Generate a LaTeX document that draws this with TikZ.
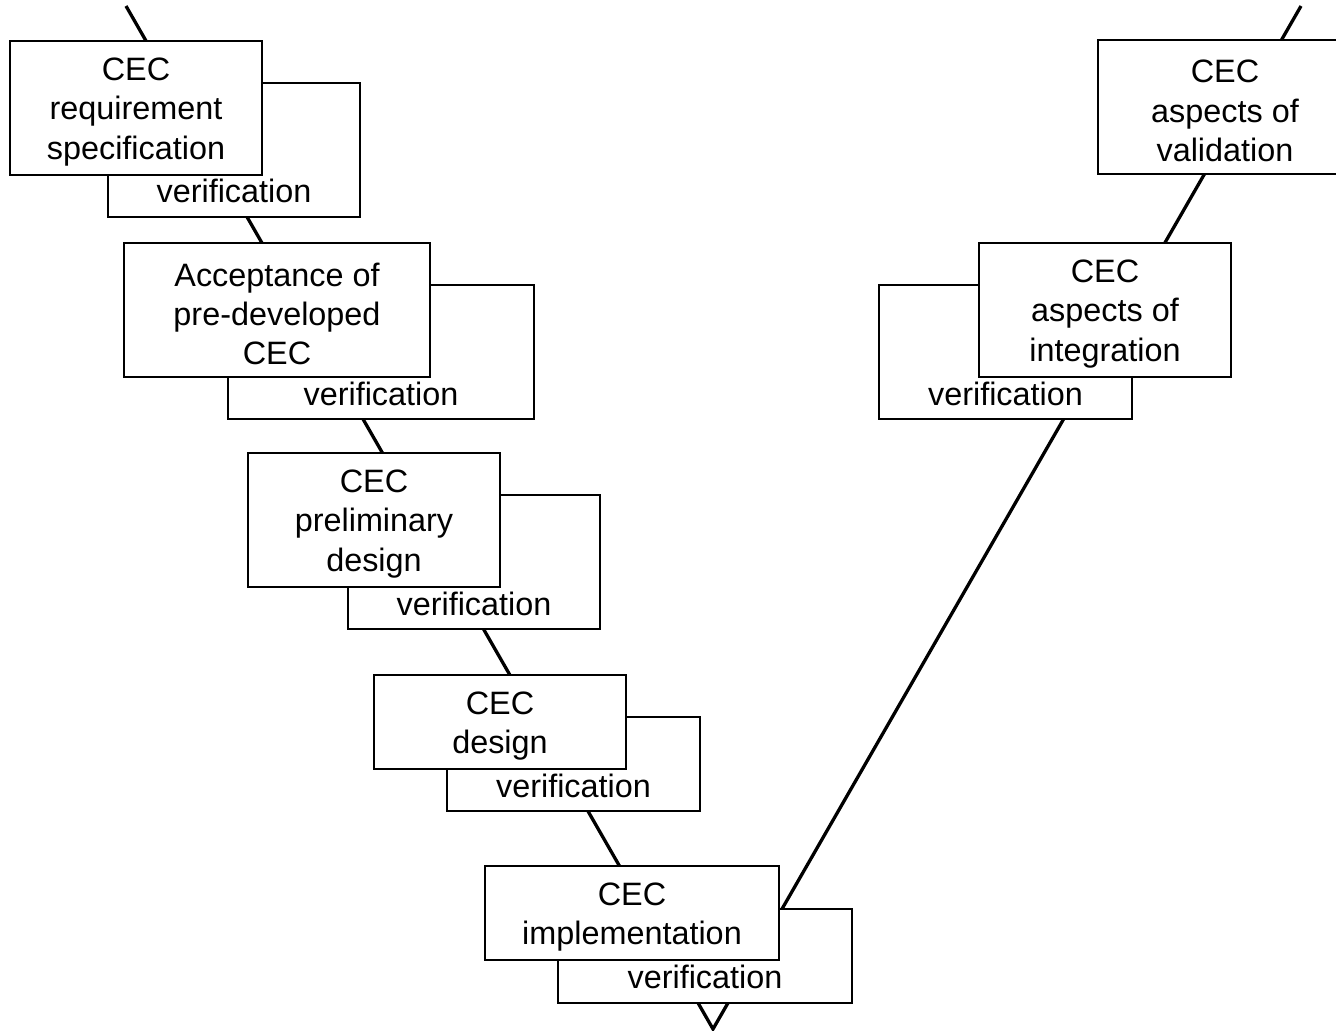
\documentclass[tikz,border=0pt]{standalone}
\usepackage{fontspec}
\setmainfont{Liberation Sans}
\usetikzlibrary{calc}
\begin{document}
\begin{tikzpicture}[x=1bp,y=-1bp,
  txt/.style={font=\fontsize{32.5}{39.5}\selectfont},
  box/.style={draw, line width=2.3bp, fill=white, inner sep=0pt},
  tallbox/.style={box, minimum height=134bp},
  lowbox/.style={box, minimum height=94bp},
  boxtext/.style={txt, align=center, inner sep=0pt, yshift=-4bp},
  vline/.style={line width=3.3bp},
  vtext/.style={txt, inner sep=0pt}]
\useasboundingbox (0,0) rectangle (1336,1030);
% the V line behind the boxes
\coordinate (tl) at (126,6);
\coordinate (apex) at (713,1029);
\coordinate (tr) at (1301,6);
\draw[vline] (tl) -- (apex) -- (tr);
% left branch
\node[tallbox, minimum width=252bp] (v1) at (234,150) {};
\node[vtext] (t1) at ($(v1.south)+(0,-27)$) {verification};
\node[tallbox, minimum width=252bp] (m1) at (136,108) {};
\node[boxtext] (l1) at (m1.center) {CEC\\requirement\\specification};
\node[tallbox, minimum width=306bp] (v2) at (381,352) {};
\node[vtext] (t2) at ($(v2.south)+(0,-26)$) {verification};
\node[tallbox, minimum width=306bp] (m2) at (277,310) {};
\node[boxtext] (l2) at (m2.center) {Acceptance of\\pre-developed\\CEC};
\node[tallbox, minimum width=252bp] (v3) at (474,562) {};
\node[vtext] (t3) at ($(v3.south)+(0,-26)$) {verification};
\node[tallbox, minimum width=252bp] (m3) at (374,520) {};
\node[boxtext] (l3) at (m3.center) {CEC\\preliminary\\design};
\node[lowbox, minimum width=253bp] (v4) at (573.5,764) {};
\node[vtext] (t4) at ($(v4.south)+(0,-26)$) {verification};
\node[lowbox, minimum width=252bp] (m4) at (500,722) {};
\node[boxtext] (l4) at (m4.center) {CEC\\design};
\node[lowbox, minimum width=294bp] (v5) at (705,956) {};
\node[vtext] (t5) at ($(v5.south)+(0,-27)$) {verification};
\node[lowbox, minimum width=294bp] (m5) at (632,913) {};
\node[boxtext] (l5) at (m5.center) {CEC\\implementation};
% right branch
\node[tallbox, minimum width=253bp] (v6) at (1005.5,352) {};
\node[vtext] (t6) at ($(v6.south)+(0,-26)$) {verification};
\node[tallbox, minimum width=252bp] (m6) at (1105,310) {};
\node[boxtext] (l6) at (m6.center) {CEC\\aspects of\\integration};
\node[tallbox, minimum width=254bp] (m7) at (1225,107) {};
\node[boxtext] (l7) at (m7.center) {CEC\\aspects of\\validation};
\end{tikzpicture}
\end{document}
